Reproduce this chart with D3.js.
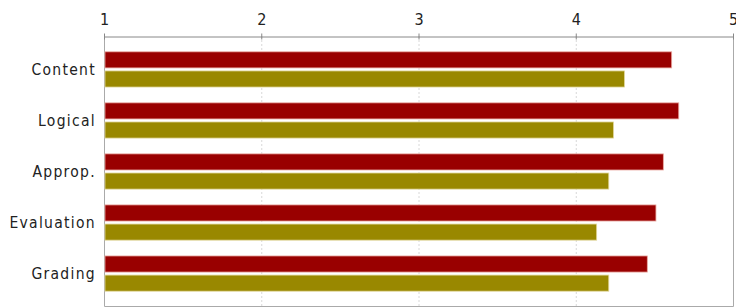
<!DOCTYPE html>
<html>
<head>
<meta charset="utf-8">
<script src="https://cdn.jsdelivr.net/npm/d3@7"></script>
<style>
  body { margin: 0; background: #fff; }
  svg text { font-family: "DejaVu Sans Condensed", "DejaVu Sans", sans-serif; fill: #222; }
</style>
</head>
<body>
<div id="chart"></div>
<script>
(function () {
  "use strict";

  // data
  let categories = ['Content', 'Logical', 'Approp.', 'Evaluation', 'Grading']
  let seriesNames = ['red', 'olive']
  let redValues = [4.61, 4.655, 4.557, 4.51, 4.455]
  let oliveValues = [4.31, 4.24, 4.21, 4.133, 4.21]
  let tickValues = [1, 2, 3, 4, 5]

  let colors = { red: '#990000', olive: '#998800' }
  let strokes = { red: '#e9a8a0', olive: '#e2d79c' }

  let width = 736, height = 308
  let left = 104, right = 733, top = 36, bottom = 307

  let svg = d3.select('#chart').append('svg')
    .attr('width', width)
    .attr('height', height)

  let x = d3.scaleLinear().domain([1, 5]).range([left, right])
  let y0 = d3.scaleBand().domain(categories).range([top, bottom]).paddingInner(0.31).paddingOuter(0.31)
  let y1 = d3.scaleBand().domain(seriesNames).range([0, y0.bandwidth()]).paddingInner(0.158)

  // faint dotted gridlines
  svg.append('g')
    .selectAll('line')
    .data(tickValues.slice(1, -1))
    .enter().append('line')
      .attr('x1', d => x(d) + 0.5).attr('x2', d => x(d) + 0.5)
      .attr('y1', top).attr('y2', bottom)
      .attr('stroke', '#d8d8d8')
      .attr('stroke-dasharray', '2,2')

  // plot frame (left, right, bottom)
  svg.append('path')
    .attr('d', `M${left + 0.5},${top}V${bottom - 0.5}H${right + 0.5}V${top}`)
    .attr('fill', 'none')
    .attr('stroke', '#aaa')

  let data = categories.map(function(c, i){
    return { cat: c, values: [{ key: 'red', v: redValues[i] }, { key: 'olive', v: oliveValues[i] }] }
  })

  let groups = svg.append('g').selectAll('g')
    .data(data)
    .enter().append('g')
      .attr('transform', d => `translate(0,${y0(d.cat)})`)

  groups.selectAll('rect')
    .data(d => d.values)
    .enter().append('rect')
      .attr('x', x(1) + 1)
      .attr('y', d => y1(d.key))
      .attr('width', d => x(d.v) - x(1) - 1)
      .attr('height', y1.bandwidth())
      .attr('fill', d => colors[d.key])
      .attr('stroke', d => strokes[d.key])
      .attr('stroke-width', 0.8)

  // top axis
  let axis = svg.append('g')
    .attr('transform', `translate(0,${top + 0.5})`)
    .call(d3.axisTop(x).tickValues(tickValues).tickFormat(d3.format('d')).tickSizeInner(3).tickSizeOuter(0).tickPadding(9))
  axis.select('.domain').attr('stroke', '#888')
  axis.selectAll('.tick line').attr('stroke', '#888').attr('y2', 3).attr('y1', -3)
  axis.selectAll('.tick text')
    .style('font-size', '16px')
    .attr('fill', '#111')

  // category labels
  svg.append('g').selectAll('text')
    .data(categories)
    .enter().append('text')
      .attr('x', 96)
      .attr('y', d => y0(d) + y0.bandwidth() / 2)
      .attr('dy', '0.36em')
      .attr('text-anchor', 'end')
      .style('font-size', '15.5px')
      .style('letter-spacing', '1.3px')
      .text(d => d)

}());
</script>
</body>
</html>
